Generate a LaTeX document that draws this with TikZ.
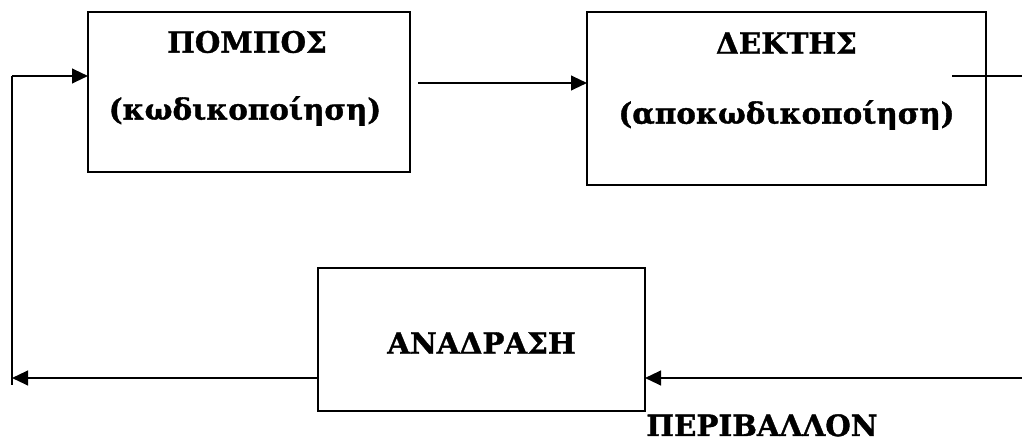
\documentclass[tikz,border=0pt]{standalone}
\usepackage{fontspec}
\setmainfont{DejaVu Serif}
\newfontfamily\heavyfont{DejaVu Serif Bold}[FakeBold=1.2]
\usepackage{tikz}
\usetikzlibrary{arrows.meta}
\usetikzlibrary{positioning}
\tikzset{%
  myedge/.style={-{Triangle[length=12pt,width=11pt]}, line width=1.6pt},
  myline/.style={line width=1.6pt},
  mybox/.style={rectangle, draw=black, line width=1.6pt, inner sep=0pt, outer sep=0pt},
  mylabel/.style={font=\fontsize{22pt}{26pt}\heavyfont, inner sep=0pt}
}

\begin{document}
\begin{tikzpicture}[x=0.75pt, y=-0.75pt]
  \useasboundingbox (0,0) rectangle (1022,441);
  % boxes
  \node[mybox, minimum width=241.5pt, minimum height=120pt] (pompos) at (249,92) {};
  \node[mybox, minimum width=299.25pt, minimum height=129.75pt] (dektis) at (786.5,98.5) {};
  \node[mybox, minimum width=245.25pt, minimum height=107.25pt] (anadrasi) at (481.5,339.5) {};
  % texts
  \node[mylabel] (pomposA) at (247,42) {ΠΟΜΠΟΣ};
  \node[mylabel] (pomposB) at (245,111) {(κωδικοποίηση)};
  \node[mylabel] (dektisA) at (786.5,43) {ΔΕΚΤΗΣ};
  \node[mylabel] (dektisB) at (786.5,115) {(αποκωδικοποίηση)};
  \node[mylabel] (anadrasiA) at (481.5,343) {ΑΝΑΔΡΑΣΗ};
  \node[mylabel, anchor=base] (perivallon) at (762,436) {ΠΕΡΙΒΑΛΛΟΝ};
  % connectors
  \coordinate (send) at (418,83);
  \draw [myedge] (send) -- (send -| dektis.west);
  \coordinate (tap) at (952,76);
  \coordinate (out) at (1022,76);
  \draw [myline] (tap) -- (out);
  \coordinate (env) at (1022,378);
  \draw [myedge] (env) -- (env -| anadrasi.east);
  \coordinate (back) at (12,378);
  \draw [myedge] (env -| anadrasi.west) -- (back);
  \coordinate (low) at (12,385);
  \coordinate (up) at (12,76);
  \draw [myline] (low) -- (up);
  \draw [myedge] (up) -- (up -| pompos.west);
\end{tikzpicture}
\end{document}
